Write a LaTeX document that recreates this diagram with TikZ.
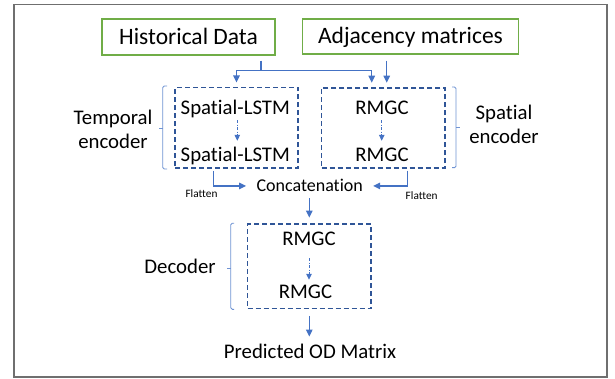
\documentclass[tikz,border=0pt]{standalone}
\usepackage{fontspec}
\setmainfont{Carlito}[Ligatures=NoCommon]
\usetikzlibrary{arrows.meta}
\definecolor{boxgreen}{HTML}{70AD47}
\definecolor{arrowblue}{HTML}{4472C4}
\definecolor{dashblue}{HTML}{2F5597}
\definecolor{bracecol}{HTML}{6F93D3}
\definecolor{framegray}{HTML}{6F6F6F}
\begin{document}
\begin{tikzpicture}[x=1pt,y=-1pt,
  inputbox/.style={draw=boxgreen,line width=1.5pt,inner sep=0pt,font=\fontsize{23.5}{28}\selectfont,text height=15pt,text depth=0pt},
  groupbox/.style={draw=dashblue,line width=1.5pt,dash pattern=on 5pt off 3pt,inner sep=0pt},
  captxt/.style={anchor=base,inner sep=0pt,font=\fontsize{20.8}{25}\selectfont,text height=14pt,text depth=4pt},
  flattxt/.style={anchor=base,inner sep=0pt,font=\fontsize{11.3}{13}\selectfont},
  link/.style={draw=arrowblue,line width=1.3pt},
  arrowlink/.style={link,-{Triangle[length=7pt,width=6.5pt]}},
  innerlink/.style={draw=arrowblue,line width=1pt,dash pattern=on 3pt off 1.5pt on 1pt off 1.5pt,-{Triangle[length=6pt,width=5.5pt]}},
  brace/.style={draw=bracecol,line width=0.9pt,rounded corners=1.5pt},
]
\useasboundingbox (0,0) rectangle (615,379);
\draw[framegray,line width=1.8pt] (14,4.5) rectangle (606.7,377);

% input boxes
\node[inputbox,minimum width=173pt,minimum height=36pt] (hist) at (188.5,37) {Historical Data};
\node[inputbox,minimum width=216pt,minimum height=35pt] (adj) at (410.5,36.5) {Adjacency matrices};

% group boxes
\node[groupbox,minimum width=123pt,minimum height=80.5pt] (tenc) at (236.5,128) {};
\node[groupbox,minimum width=123.3pt,minimum height=80pt] (senc) at (383.3,128) {};
\node[groupbox,minimum width=123.3pt,minimum height=84.3pt] (dec) at (309.3,266.2) {};

% texts
\node[captxt] (sl1) at (235.3,114.3) {Spatial-LSTM};
\node[captxt] (sl2) at (235.3,161.7) {Spatial-LSTM};
\node[captxt] (r1) at (382,114.3) {RMGC};
\node[captxt] (r2) at (382,161.7) {RMGC};
\node[captxt] (d1) at (309,245.7) {RMGC};
\node[captxt] (d2) at (305.5,298.3) {RMGC};
\node[captxt] (tl1) at (113,125) {Temporal};
\node[captxt] (tl2) at (113,148.3) {encoder};
\node[captxt] (sp1) at (504,119.3) {Spatial};
\node[captxt] (sp2) at (504,143.3) {encoder};
\node[captxt] (decl) at (180,273.3) {Decoder};
\node[captxt,font=\fontsize{18}{22}\selectfont,text height=13pt,text depth=1.5pt] (cc) at (309.7,191.7) {Concatenation};
\node[captxt] (pod) at (310,358) {Predicted OD Matrix};
\node[flattxt] (f1) at (201.5,197.7) {Flatten};
\node[flattxt] (f2) at (421.7,199.3) {Flatten};

% input connectors
\coordinate (split) at (261,70.5);
\coordinate (sin1) at ([xshift=-11.6pt]senc.north);
\coordinate (sin2) at ([xshift=3.4pt]senc.north);
\draw[link,shorten <=5pt] (hist.south -| split) -- (split);
\draw[arrowlink,shorten >=4.5pt] (split) -| (tenc.north);
\draw[arrowlink,shorten >=4.5pt] (split) -| (sin1);
\draw[arrowlink,shorten <=6pt,shorten >=4.5pt] (adj.south -| sin2) -- (sin2);

% inner dashed connectors
\draw[innerlink,shorten <=1.7pt,shorten >=6.7pt] ([xshift=2pt]sl1.south) -- ([xshift=2pt]sl2.north);
\draw[innerlink,shorten <=1.7pt,shorten >=6.7pt] ([xshift=-0.3pt]r1.south) -- ([xshift=-0.3pt]r2.north);
\draw[innerlink,shorten <=8.3pt,shorten >=4.3pt] (d1.south) -- (d1.south |- d2.north);

% flatten connectors
\draw[arrowlink,shorten <=2pt,shorten >=10.2pt] ([xshift=-23.2pt]tenc.south) |- (cc.west);
\draw[arrowlink,shorten <=2pt,shorten >=10.1pt] ([xshift=24pt]senc.south) |- (cc.east);

% decoder connectors
\draw[arrowlink,shorten <=4.8pt,shorten >=5.7pt] (cc.south -| dec.north) -- (dec.north);
\draw[arrowlink,shorten <=6.7pt,shorten >=7.3pt] (dec.south) -- (dec.south |- pod.north);

% braces
\draw[brace] (167,86) -- (162.7,86) -- (162.7,169) -- (167,169);
\draw[brace] (162.7,128) -- (158.5,128);
\draw[brace] (452,87) -- (456,87) -- (456,167.7) -- (452,167.7);
\draw[brace] (456,127.7) -- (460,127.7);
\draw[brace] (234,223.3) -- (230.7,223.3) -- (230.7,309.3) -- (234,309.3);
\draw[brace] (230.7,268.3) -- (226.5,268.3);
\end{tikzpicture}
\end{document}
